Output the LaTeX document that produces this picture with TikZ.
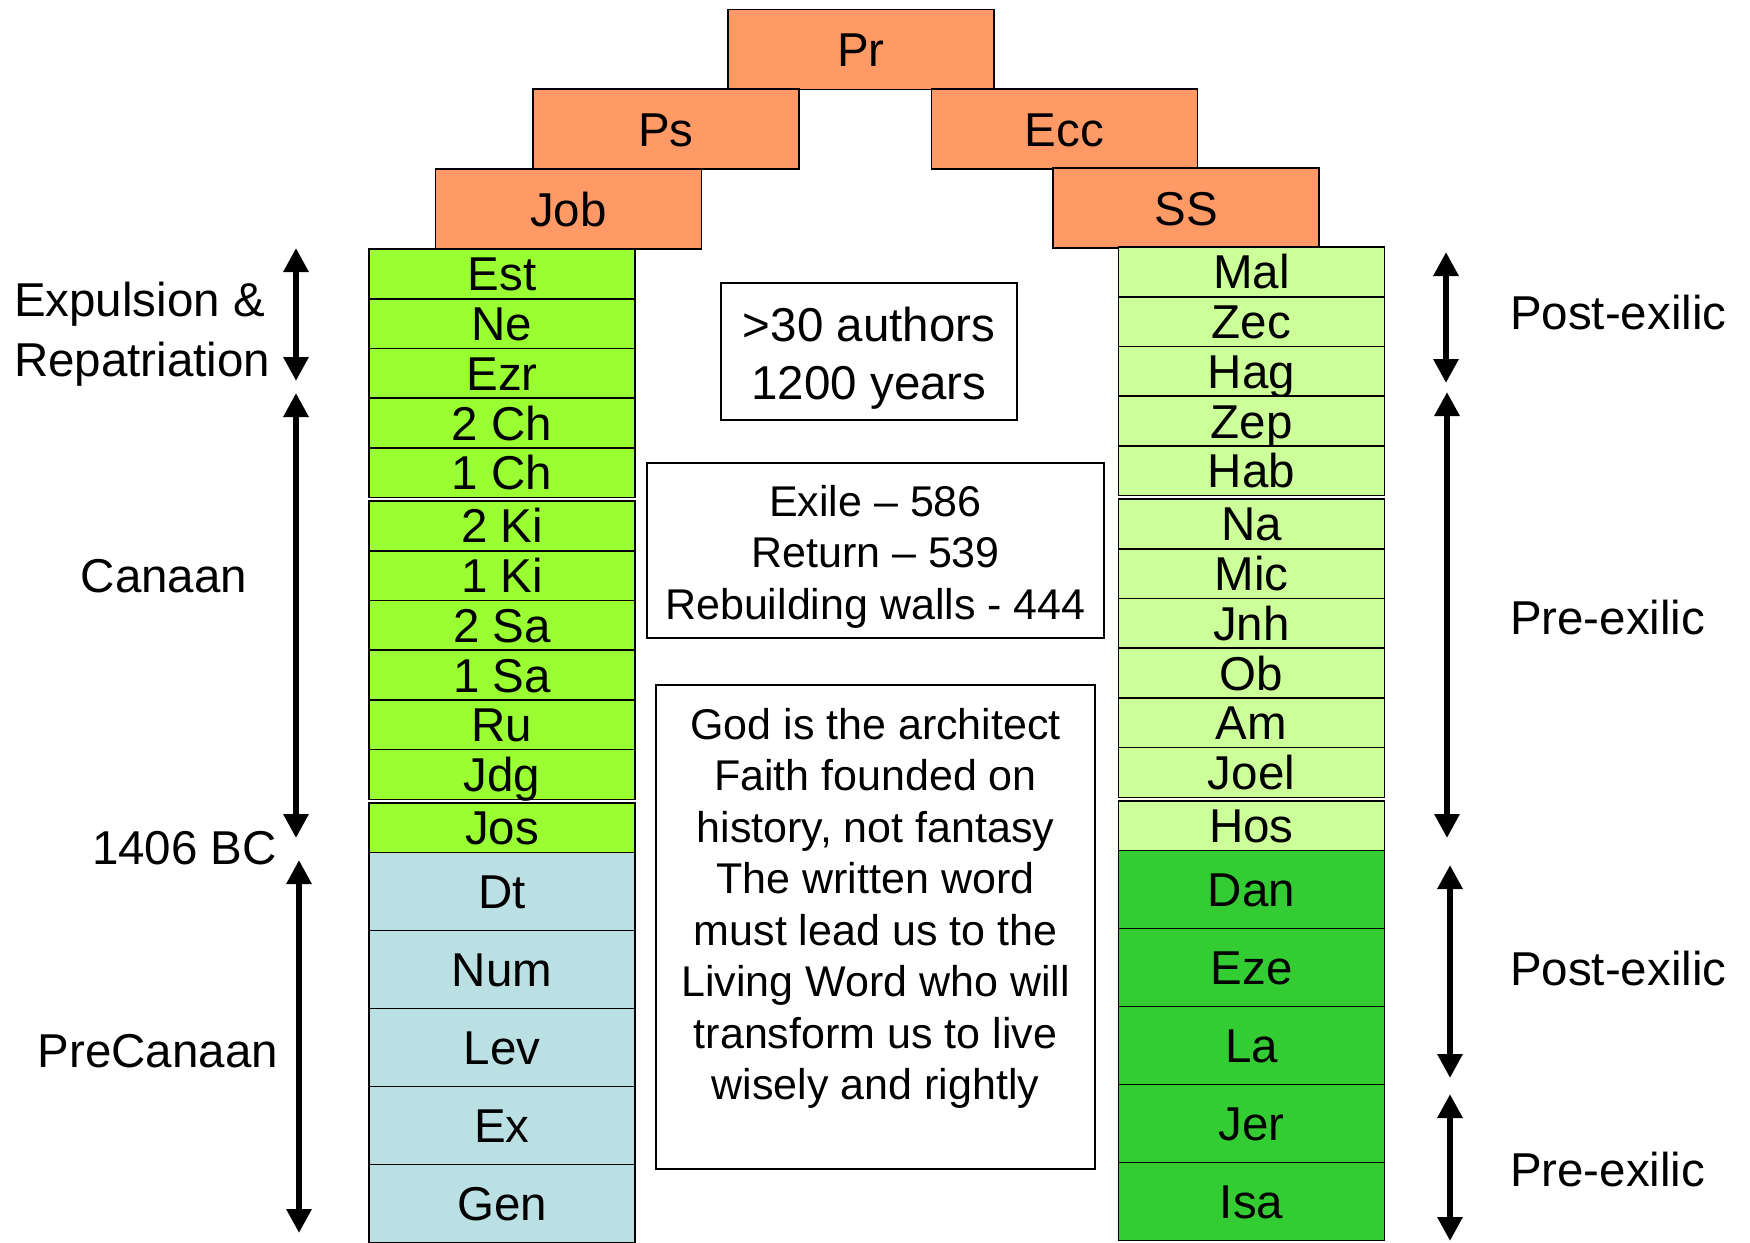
\documentclass[tikz,border=0pt]{standalone}
\usepackage{fontspec}
\setmainfont{Liberation Sans}
\usepackage{xcolor}
\usetikzlibrary{arrows.meta,positioning}

\definecolor{roofcol}{HTML}{FF9966}
\definecolor{histcol}{HTML}{99FF33}
\definecolor{minorcol}{HTML}{CCFF99}
\definecolor{majorcol}{HTML}{33CC33}
\definecolor{lawcol}{HTML}{BBE0E3}

\begin{document}
\begin{tikzpicture}[
  x=1pt, y=-1pt,
  every node/.style={outer sep=0pt},
  book/.style={draw, line width=1.5pt, minimum width=266pt, minimum height=49.7pt, inner sep=0pt, font=\fontsize{47.5}{57}\selectfont, text height=34pt, text depth=0pt},
  roofbox/.style={book, fill=roofcol, minimum height=80pt},
  hist/.style={book, fill=histcol},
  minor/.style={book, fill=minorcol},
  law/.style={book, fill=lawcol, minimum height=78pt},
  major/.style={book, fill=majorcol, minimum height=78pt},
  side/.style={inner sep=0pt, font=\fontsize{47.5}{60}\selectfont, text height=34pt, text depth=0pt},
  notebox/.style={draw, line width=1.5pt, inner sep=0pt},
  notetext/.style={inner sep=0pt, align=center, font=\fontsize{43}{51.5}\selectfont},
  span/.style={{Triangle[length=24pt,width=24pt]}-{Triangle[length=24pt,width=24pt]}, line width=6pt}
]
\useasboundingbox (0,0) rectangle (1750,1242);

% roof
\node[roofbox] (pr) at (861,49.5) {Pr};
\node[roofbox] (ps) at (666,129) {Ps};
\node[roofbox] (ecc) at (1064.5,129) {Ecc};
\node[roofbox] (job) at (568.5,209) {Job};
\node[roofbox] (ss) at (1186,208) {SS};

% left pillar
\node[hist] (est) at (502,273.9) {Est};
\node[hist, below=0pt of est] (ne) {Ne};
\node[hist, below=0pt of ne] (ezr) {Ezr};
\node[hist, below=0pt of ezr] (ch2) {2 Ch};
\node[hist, below=0pt of ch2] (ch1) {1 Ch};
\node[hist, below=3.5pt of ch1] (ki2) {2 Ki};
\node[hist, below=0pt of ki2] (ki1) {1 Ki};
\node[hist, below=0pt of ki1] (sa2) {2 Sa};
\node[hist, below=0pt of sa2] (sa1) {1 Sa};
\node[hist, below=0pt of sa1] (ru) {Ru};
\node[hist, below=0pt of ru] (jdg) {Jdg};
\node[hist, below=3.5pt of jdg] (jos) {Jos};
\node[law, below=0pt of jos] (dt) {Dt};
\node[law, below=0pt of dt] (num) {Num};
\node[law, below=0pt of num] (lev) {Lev};
\node[law, below=0pt of lev] (ex) {Ex};
\node[law, below=0pt of ex] (gen) {Gen};

% right pillar
\node[minor] (mal) at (1251.5,271.9) {Mal};
\node[minor, below=0pt of mal] (zec) {Zec};
\node[minor, below=0pt of zec] (hag) {Hag};
\node[minor, below=0pt of hag] (zep) {Zep};
\node[minor, below=0pt of zep] (hab) {Hab};
\node[minor, below=3.5pt of hab] (na) {Na};
\node[minor, below=0pt of na] (mic) {Mic};
\node[minor, below=0pt of mic] (jnh) {Jnh};
\node[minor, below=0pt of jnh] (ob) {Ob};
\node[minor, below=0pt of ob] (am) {Am};
\node[minor, below=0pt of am] (joel) {Joel};
\node[minor, below=3.5pt of joel] (hos) {Hos};
\node[major, below=0pt of hos] (dan) {Dan};
\node[major, below=0pt of dan] (eze) {Eze};
\node[major, below=0pt of eze] (la) {La};
\node[major, below=0pt of la] (jer) {Jer};
\node[major, below=0pt of jer] (isa) {Isa};

% notes in the middle
\node[notebox, minimum width=296pt, minimum height=137pt] (authors) at (869,351.5) {};
\node[notetext, below=24.5pt of authors.north, font=\fontsize{47.5}{58}\selectfont] (authorstext) {>30 authors\\1200 years};
\node[notebox, minimum width=457pt, minimum height=175pt] (exile) at (875.5,550.5) {};
\node[notetext, below=22pt of exile.north] (exiletext) {Exile – 586\\Return – 539\\Rebuilding walls - 444};
\node[notebox, minimum width=439pt, minimum height=484pt] (god) at (875.5,927) {};
\node[notetext, below=23pt of god.north] (godtext) {God is the architect\\Faith founded on\\history, not fantasy\\The written word\\must lead us to the\\Living Word who will\\transform us to live\\wisely and rightly};

% periods
\node[anchor=north west, inner sep=0pt, align=left, font=\fontsize{47.5}{60}\selectfont] (expul) at (14,282) {Expulsion \&\\Repatriation};
\node[side] (canaan) at (164,575) {Canaan};
\node[side, anchor=east] (bc) at (277,847) {1406 BC};
\node[side, anchor=east] (precan) at (278,1050) {PreCanaan};
\node[side, anchor=west] (post1) at (1510,312) {Post-exilic};
\node[side, anchor=west] (pre1) at (1510,617) {Pre-exilic};
\node[side, anchor=west] (post2) at (1510,968) {Post-exilic};
\node[side, anchor=west] (pre2) at (1510,1169) {Pre-exilic};

\coordinate (expul-a) at (296,248);
\coordinate (expul-b) at (296,381);
\coordinate (canaan-a) at (296,393);
\coordinate (canaan-b) at (296,838);
\coordinate (precan-a) at (299,860);
\coordinate (precan-b) at (299,1233);
\coordinate (post1-a) at (1446,252);
\coordinate (post1-b) at (1446,383);
\coordinate (pre1-a) at (1447,392);
\coordinate (pre1-b) at (1447,838);
\coordinate (post2-a) at (1450,865);
\coordinate (post2-b) at (1450,1078);
\coordinate (pre2-a) at (1450,1094);
\coordinate (pre2-b) at (1450,1241);

\draw[span] (expul-a) -- (expul-b);
\draw[span] (canaan-a) -- (canaan-b);
\draw[span] (precan-a) -- (precan-b);
\draw[span] (post1-a) -- (post1-b);
\draw[span] (pre1-a) -- (pre1-b);
\draw[span] (post2-a) -- (post2-b);
\draw[span] (pre2-a) -- (pre2-b);
\end{tikzpicture}
\end{document}
